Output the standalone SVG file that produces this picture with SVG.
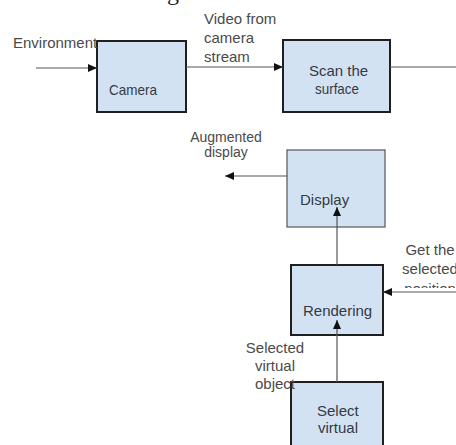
<svg xmlns="http://www.w3.org/2000/svg" width="456" height="445" viewBox="0 0 456 445">
<defs>
<style>
.box{fill:#d3e2f3;stroke:#1f1f1f;stroke-width:2}
.boxl{fill:#d3e2f3;stroke:#555;stroke-width:1.2}
.bt{font-family:"Liberation Sans",Arial,sans-serif;font-size:15px;fill:#333a44}
.lb{font-family:"Liberation Sans",Arial,sans-serif;font-size:15px;fill:#4a4a4a}
.ln{stroke:#555;stroke-width:1.2;fill:none}
</style>
<marker id="ah" markerWidth="9" markerHeight="8" refX="9" refY="4" orient="auto" markerUnits="userSpaceOnUse">
<path d="M0,0 L9,4 L0,8 Z" fill="#111"/>
</marker>
<clipPath id="clipPos"><rect x="380" y="270" width="80" height="18"/></clipPath>
</defs>
<rect width="456" height="445" fill="#fff"/>
<text x="167" y="0" font-family="Liberation Serif,serif" font-size="24" fill="#222">g</text>

<g id="camera">
<rect class="box" x="97" y="41" width="89" height="71"/>
<text class="bt" x="109" y="95" textLength="48" lengthAdjust="spacingAndGlyphs">Camera</text>
</g>
<g id="scan">
<rect class="box" x="283" y="40" width="107" height="72"/>
<text class="bt" x="309" y="76">Scan the</text>
<text class="bt" x="315" y="94" textLength="44" lengthAdjust="spacingAndGlyphs">surface</text>
</g>
<g id="display">
<rect class="boxl" x="287" y="150" width="98" height="77"/>
<text class="bt" x="300" y="205">Display</text>
</g>
<g id="rendering">
<rect class="box" x="291" y="265" width="92" height="70"/>
<text class="bt" x="303" y="316">Rendering</text>
</g>
<g id="select">
<rect class="box" x="291" y="382" width="92" height="80"/>
<text class="bt" x="317" y="416">Select</text>
<text class="bt" x="318" y="433">virtual</text>
</g>

<g id="connectors">
<line class="ln" x1="36" y1="68" x2="97" y2="68" marker-end="url(#ah)"/>
<line class="ln" x1="186" y1="67" x2="283" y2="67" marker-end="url(#ah)"/>
<line class="ln" x1="390" y1="67" x2="456" y2="67"/>
<line class="ln" x1="287" y1="176" x2="225" y2="176" marker-end="url(#ah)"/>
<line class="ln" x1="337" y1="265" x2="337" y2="207" marker-end="url(#ah)"/>
<line class="ln" x1="456" y1="292" x2="383" y2="292" marker-end="url(#ah)"/>
<line class="ln" x1="337" y1="382" x2="337" y2="320" marker-end="url(#ah)"/>
</g>

<g id="labels">
<text class="lb" x="13" y="48">Environment</text>
<text class="lb" x="204" y="24">Video from</text>
<text class="lb" x="204" y="43">camera</text>
<text class="lb" x="204" y="62">stream</text>
<text class="lb" x="226" y="142" text-anchor="middle" style="font-size:14px">Augmented</text>
<text class="lb" x="226" y="157" text-anchor="middle" style="font-size:14px">display</text>
<text class="lb" x="430" y="255" text-anchor="middle">Get the</text>
<text class="lb" x="430" y="274" text-anchor="middle">selected</text>
<text class="lb" x="430" y="294" text-anchor="middle" clip-path="url(#clipPos)">position</text>
<text class="lb" x="275" y="353" text-anchor="middle">Selected</text>
<text class="lb" x="275" y="371" text-anchor="middle">virtual</text>
<text class="lb" x="275" y="389" text-anchor="middle">object</text>
</g>
</svg>
